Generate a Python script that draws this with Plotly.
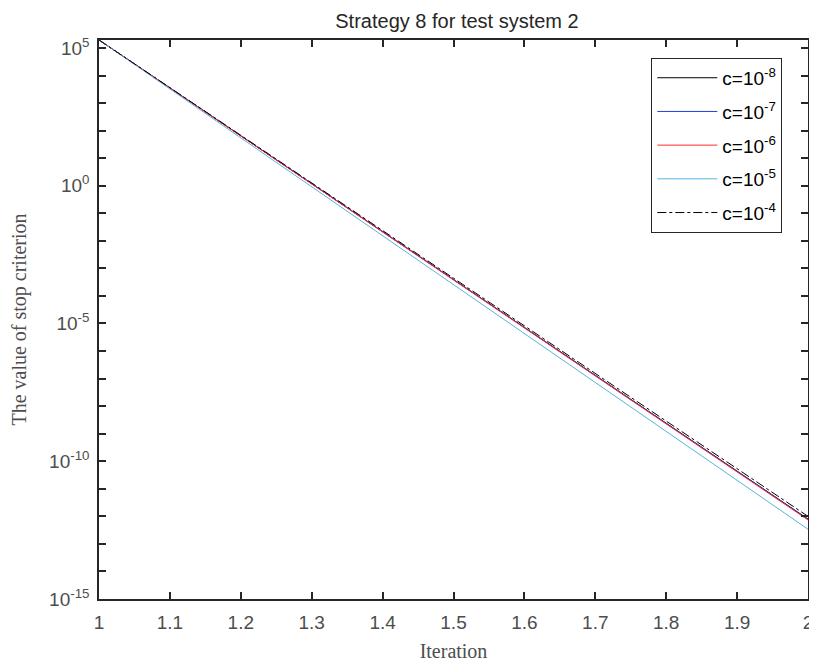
import plotly.graph_objects as go

iterations = [1, 2]
names = ["c=10<sup>-8</sup>", "c=10<sup>-7</sup>", "c=10<sup>-6</sup>", "c=10<sup>-5</sup>", "c=10<sup>-4</sup>"]
vals_c8 = [1.95e5, 8.0e-13]
vals_c7 = [1.95e5, 7.8e-13]
vals_c6 = [1.95e5, 7.4e-13]
vals_c5 = [1.95e5, 3.4e-13]
vals_c4 = [1.95e5, 1.0e-12]
series = [vals_c8, vals_c7, vals_c6, vals_c5, vals_c4]
colors = ["#000000", "#1f3fdf", "#ff2a2a", "#56b4e0", "#000000"]
dashes = ["solid", "solid", "solid", "solid", "dashdot"]

decades = list(range(-15, 6))
major = {5, 0, -5, -10, -15}
ytickvals = [10.0 ** d for d in decades]
yticktext = [f"10<sup>{d}</sup>" if d in major else "" for d in decades]
xtickvals = [1 + i / 10 for i in range(11)]
xticktext = ["1", "1.1", "1.2", "1.3", "1.4", "1.5", "1.6", "1.7", "1.8", "1.9", "2"]

fig = go.Figure()
for i, (name, vals, col, dash) in enumerate(zip(names, series, colors, dashes)):
    fig.add_trace(go.Scatter(x=iterations, y=vals, mode="lines", name=name,
                             legendgroup=f"g{i}",
                             line=dict(color=col, width=1, dash=dash)))

axis_common = dict(showline=True, linecolor="#262626", linewidth=1.5, mirror="ticks",
                   ticks="inside", tickcolor="#262626", tickwidth=1.5, ticklen=7,
                   showgrid=False, zeroline=False, automargin=False,
                   ticklabeloverflow="allow",
                   tickfont=dict(family="Liberation Sans, Arial", size=19, color="#4d4d4d"))

fig.update_layout(
    width=809, height=657,
    margin=dict(l=91, r=9, t=32, b=66),
    paper_bgcolor="white", plot_bgcolor="white",
    title=dict(text="Strategy 8 for test system 2", x=0.555, xanchor="center", y=0.980, yanchor="middle",
               font=dict(family="Liberation Sans, Arial", size=20, color="#262626")),
    xaxis=dict(range=[1, 2], tickvals=xtickvals, ticktext=xticktext, ticklabelstandoff=5,
               title=dict(text="Iteration", standoff=12,
                          font=dict(family="Liberation Serif, Times New Roman", size=20, color="#4d4d4d")),
               **axis_common),
    yaxis=dict(type="log", range=[-15, 5.29], tickvals=ytickvals, ticktext=yticktext, ticklabelstandoff=4,
               title=dict(text="The value of stop criterion", standoff=21,
                          font=dict(family="Liberation Serif, Times New Roman", size=20, color="#4d4d4d")),
               **axis_common),
    legend=dict(x=0.779, y=0.968, xanchor="left", yanchor="top",
                bgcolor="white", bordercolor="#262626", borderwidth=1,
                font=dict(family="Liberation Sans, Arial", size=19, color="#000000"),
                tracegroupgap=6, itemwidth=60, entrywidth=110, entrywidthmode="pixels"),
    showlegend=True,
)

fig.write_html("out.html")
